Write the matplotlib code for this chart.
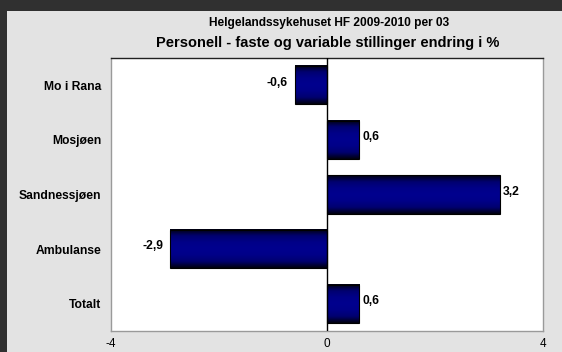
import numpy as np
import matplotlib
matplotlib.use("Agg")
import matplotlib.pyplot as plt
from matplotlib.colors import LinearSegmentedColormap
from matplotlib.patches import Rectangle

plt.rcParams['font.family'] = ['Liberation Sans', 'DejaVu Sans']

kategorier = ["Mo i Rana", "Mosjøen", "Sandnessjøen", "Ambulanse", "Totalt"]
endring = [-0.6, 0.6, 3.2, -2.9, 0.6]
etiketter = ["-0,6", "0,6", "3,2", "-2,9", "0,6"]
x_ticks = [-4, 0, 4]

fig = plt.figure(figsize=(5.62, 3.52), dpi=100)
fig.patch.set_facecolor('#303030')
# lys grå bakgrunn med mørk kant oppe og til venstre
bg = fig.add_axes([7 / 562, 0, 1, 341 / 352], zorder=-5)
bg.set_facecolor('#e3e3e3')
bg.set_xticks([])
bg.set_yticks([])
for s in bg.spines.values():
    s.set_visible(False)

ax = fig.add_axes([111 / 562, 21 / 352, 432 / 562, 273 / 352], zorder=1)
ax.set_facecolor('white')

cmap = LinearSegmentedColormap.from_list(
    'blaa', ['#000010', '#000070', '#000088', '#00008e', '#000088', '#000070', '#000010'])
grad = np.linspace(0, 1, 64).reshape(-1, 1)
h = 0.70
y = np.arange(len(kategorier))
for i, v in enumerate(endring):
    x0, x1 = min(0, v), max(0, v)
    ax.imshow(grad, cmap=cmap, aspect='auto', extent=(x0, x1, i + h / 2, i - h / 2),
              interpolation='bilinear', zorder=2)
    ax.add_patch(Rectangle((x0, i - h / 2), x1 - x0, h, facecolor='none',
                           edgecolor='black', linewidth=0.8, zorder=3))
    if v < 0:
        ax.text(v - 0.12, i - 0.05, etiketter[i], ha='right', va='center',
                fontsize=8.7, fontweight='bold')
    else:
        ax.text(v + 0.06, i - 0.05, etiketter[i], ha='left', va='center',
                fontsize=8.7, fontweight='bold')

ax.axvline(0, color='black', linewidth=1, zorder=4)
ax.set_xlim(-4, 4)
ax.set_ylim(len(kategorier) - 0.5, -0.5)
ax.set_yticks(y)
ax.set_yticklabels(kategorier, fontsize=8.7, fontweight='bold')
ax.set_xticks(x_ticks)
ax.set_xticklabels([str(t) for t in x_ticks], fontsize=8.5)
ax.tick_params(axis='both', length=0)
ax.tick_params(axis='x', pad=5)
ax.tick_params(axis='y', pad=7)

for s in ['left', 'right', 'bottom']:
    ax.spines[s].set_color('#9a9a9a')
ax.spines['top'].set_color('#202020')
for s in ax.spines.values():
    s.set_linewidth(1)

fig.text(329 / 562, 1 - 23 / 352, "Helgelandssykehuset HF 2009-2010 per 03",
         ha='center', va='center', fontsize=8.6, fontweight='bold')
fig.text(328 / 562, 1 - 43 / 352, "Personell - faste og variable stillinger endring i %",
         ha='center', va='center', fontsize=10.5, fontweight='bold')

fig.savefig("out.png", dpi=100, facecolor=fig.get_facecolor())
